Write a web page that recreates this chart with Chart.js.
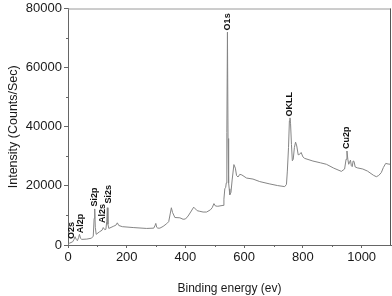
<!DOCTYPE html>
<html>
<head>
<meta charset="utf-8">
<script src="https://cdn.jsdelivr.net/npm/chart.js@4"></script>
<style>
  html, body { margin: 0; padding: 0; background: #fff; }
  canvas { display: block; }
</style>
</head>
<body>
<canvas id="grafica" width="392" height="296"></canvas>
<script>
//data
const energias = [0,5,16,20,24,28,32,36,39,43,47,64,80,86,89,91,93,96,107,116,120,125,129,132,134,136,139,154,163,168,173,185,222,268,292,296,299,302,306,313,324,336,343,348,352,356,364,381,392,400,409,420,428,434,440,449,460,472,485,491,497,502,510,528,531,534,537,539,541,543,545,547,549,551,555,559,565,570,574,579,585,592,608,630,653,685,714,738,744,747,751,754,756,758,761,764,767,771,775,779,784,789,794,800,806,834,860,880,905,931,942,947,950,953,956,959,962,965,968,971,974,978,985,1004,1020,1040,1050,1058,1067,1074,1082,1090,1098,1100];
const cuentas = [200,600,1100,1800,2800,1900,1450,2500,3600,2200,1900,2000,2300,3000,9000,12200,6000,3600,4450,5000,5900,5200,5300,8000,12600,7000,5600,6300,6700,7500,6600,6200,5900,5600,5700,6500,7300,6000,5700,5700,6300,7200,7900,10500,12600,11000,9300,9200,8700,8800,9800,11500,12800,12200,11600,11400,11150,11150,11900,12600,14000,13200,13100,13400,15500,19000,19500,21000,38000,72000,36000,21000,19000,17000,17800,22000,27200,26000,23500,23000,23900,23700,22650,22300,21450,20700,20100,19750,20500,25000,33000,42000,43000,41000,34000,28500,29000,33000,34800,33500,30500,30700,31300,29800,29300,28400,27800,27300,26000,24900,25700,29000,31800,29000,27300,28000,28700,26800,26500,28400,28300,26400,26100,25700,25000,23600,23100,23500,24500,26200,27600,27400,27300,27300];
//peak labels
const picos = ['O2s','Al2p','Si2p','Al2s','Si2s','O1s','OKLL','Cu2p'];
const picosEnergia = [13,41,89,118,137,543,755,948];
const picosCuentas = [2000,4000,13000,7400,14000,72600,43500,32500];
//ticks
const ticksX = [0,200,400,600,800,1000];
const ticksY = [0,20000,40000,60000,80000];

const puntos = energias.map((e,i) => ({x: e, y: cuentas[i]}));

//frame, minor ticks and peak labels
const extras = {
  id: 'extras',
  afterDraw(chart) {
    const ctx = chart.ctx;
    const a = chart.chartArea;
    const sx = chart.scales.x;
    const sy = chart.scales.y;
    ctx.save();
    ctx.strokeStyle = '#9a9a9a';
    ctx.lineWidth = 1;
    ctx.beginPath();
    ctx.moveTo(a.left, a.top + 0.5);
    ctx.lineTo(a.right, a.top + 0.5);
    ctx.stroke();
    ctx.strokeStyle = '#555';
    ctx.beginPath();
    ctx.moveTo(a.right - 0.5, a.top);
    ctx.lineTo(a.right - 0.5, a.bottom);
    ctx.stroke();
    //minor ticks
    ctx.strokeStyle = '#666';
    for (let v = 100; v < 1100; v += 200) {
      const px = Math.round(sx.getPixelForValue(v)) + 0.5;
      ctx.beginPath();
      ctx.moveTo(px, a.bottom);
      ctx.lineTo(px, a.bottom + 2);
      ctx.stroke();
    }
    for (let v = 10000; v < 80000; v += 20000) {
      const py = Math.round(sy.getPixelForValue(v)) + 0.5;
      ctx.beginPath();
      ctx.moveTo(a.left, py);
      ctx.lineTo(a.left - 2, py);
      ctx.stroke();
    }
    //labels
    ctx.fillStyle = '#111';
    ctx.font = 'bold 9px "Liberation Sans", Arial, sans-serif';
    ctx.textAlign = 'left';
    ctx.textBaseline = 'middle';
    picos.forEach((p,i) => {
      const px = sx.getPixelForValue(picosEnergia[i]);
      const py = sy.getPixelForValue(picosCuentas[i]);
      ctx.save();
      ctx.translate(px, py);
      ctx.rotate(-Math.PI/2);
      ctx.fillText(p, 0, 0);
      ctx.restore();
    });
    ctx.restore();
  }
};

const fuente = '"Liberation Sans", Arial, sans-serif';

new Chart(document.getElementById('grafica'), {
  type: 'line',
  data: {
    datasets: [{
      data: puntos,
      borderColor: '#858585',
      borderWidth: 1,
      pointRadius: 0,
      tension: 0,
      fill: false
    }]
  },
  options: {
    responsive: false,
    animation: false,
    parsing: false,
    layout: { padding: { top: 5, right: 1, left: 0, bottom: 0 } },
    plugins: { legend: { display: false }, tooltip: { enabled: false } },
    scales: {
      x: {
        type: 'linear',
        min: 0,
        max: 1100,
        afterBuildTicks: s => { s.ticks = ticksX.map(v => ({value: v})); },
        afterFit: s => { s.height = 51; },
        border: { color: '#666', width: 1 },
        grid: { drawOnChartArea: false, tickLength: 3, color: '#666' },
        ticks: { color: '#1a1a1a', font: { family: fuente, size: 13, lineHeight: 1 }, padding: 3, maxRotation: 0, callback: v => String(v) },
        title: { display: true, text: 'Binding energy (ev)', color: '#1a1a1a', font: { family: fuente, size: 12 }, padding: { top: 0, bottom: 0 } }
      },
      y: {
        type: 'linear',
        min: 0,
        max: 80000,
        afterBuildTicks: s => { s.ticks = ticksY.map(v => ({value: v})); },
        afterFit: s => { s.width = 68; },
        border: { color: '#666', width: 1 },
        grid: { drawOnChartArea: false, tickLength: 4, color: '#666' },
        ticks: { color: '#1a1a1a', font: { family: fuente, size: 13, lineHeight: 1 }, padding: 2, callback: v => String(v) },
        title: { display: true, text: 'Intensity (Counts/Sec)', color: '#1a1a1a', font: { family: fuente, size: 12.5 }, padding: { top: 6, bottom: 0 } }
      }
    }
  },
  plugins: [extras]
});
</script>
</body>
</html>
